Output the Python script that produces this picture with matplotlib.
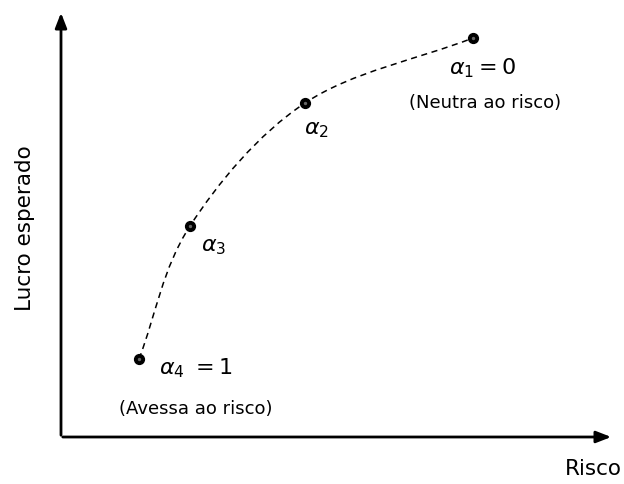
import matplotlib
matplotlib.use('Agg')
import matplotlib.pyplot as plt
from matplotlib.path import Path
from matplotlib.patches import PathPatch
import numpy as np

# points on the risk / expected profit curve (pixel-like units, y grows downward)
risco = [139, 190, 305, 473]
lucro = [360, 227, 104, 39]
labels = [r'$\alpha_4\ = 1$', r'$\alpha_3$', r'$\alpha_2$', r'$\alpha_1 = 0$']
notes = ['(Avessa ao risco)', None, None, '(Neutra ao risco)']

plt.rcParams['font.family'] = ['DejaVu Sans']
fig = plt.figure(figsize=(6.24, 4.85), dpi=100)
ax = fig.add_axes([0, 0, 1, 1])
ax.set_xlim(0, 624)
ax.set_ylim(485, 0)
ax.axis('off')

# axes with arrows
ax.annotate('', xy=(61, 11), xytext=(61, 439),
            arrowprops=dict(arrowstyle='-|>,head_length=0.9,head_width=0.35', lw=2, color='black'))
ax.annotate('', xy=(614, 438), xytext=(60, 438),
            arrowprops=dict(arrowstyle='-|>,head_length=0.9,head_width=0.35', lw=2, color='black'))
ax.text(593, 469, 'Risco', fontsize=15.5, ha='center', va='center')
ax.text(25, 228, 'Lucro esperado', fontsize=15.5, ha='center', va='center', rotation=90)

# smooth dashed curve through the points (Catmull-Rom as cubic Bezier)
P = np.column_stack([risco, lucro]).astype(float)
ext = np.vstack([2 * P[0] - P[1], P, 2 * P[-1] - P[-2]])
verts = [tuple(P[0])]
codes = [Path.MOVETO]
for i in range(1, len(ext) - 2):
    p0, p1, p2, p3 = ext[i - 1], ext[i], ext[i + 1], ext[i + 2]
    c1 = p1 + (p2 - p0) / 6
    c2 = p2 - (p3 - p1) / 6
    verts += [tuple(c1), tuple(c2), tuple(p2)]
    codes += [Path.CURVE4] * 3
ax.add_patch(PathPatch(Path(verts, codes), fill=False, ls=(0, (4, 3)), lw=1.1, color='black'))

ax.scatter(risco, lucro, s=50, color='black', zorder=3)
ax.scatter(risco, lucro, s=2, color='#666666', zorder=4)

ax.text(159, 368, labels[0], fontsize=16, ha='left', va='center')
ax.text(201, 247, labels[1], fontsize=16, ha='left', va='center')
ax.text(304, 130, labels[2], fontsize=16, ha='left', va='center')
ax.text(449, 68, labels[3], fontsize=16, ha='left', va='center')
ax.text(196, 409, notes[0], fontsize=13, ha='center', va='center')
ax.text(485, 103, notes[3], fontsize=13, ha='center', va='center')

fig.savefig('out.png', dpi=100)
